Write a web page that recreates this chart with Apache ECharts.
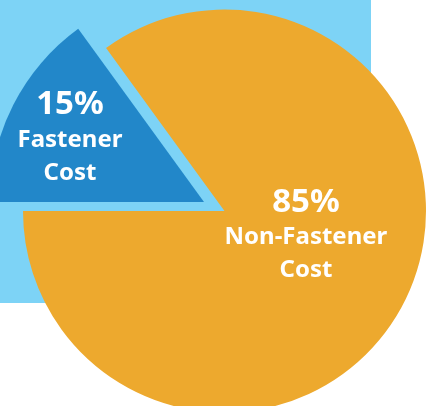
<!DOCTYPE html>
<html>
<head>
<meta charset="utf-8">
<script src="https://cdn.jsdelivr.net/npm/echarts@6/dist/echarts.min.js"></script>
<style>
html,body{margin:0;padding:0;background:#ffffff;}
#chart{width:434px;height:406px;}
</style>
</head>
<body>
<div id="chart"></div>
<script>
var categories = ['Fastener Cost', 'Non-Fastener Cost'];
var values = [15, 85];
var labelLines = [['Fastener', 'Cost'], ['Non-Fastener', 'Cost']];
var colors = ['#2287C9', '#EDA92E'];

var chart = echarts.init(document.getElementById('chart'));

function makeData(showIdx) {
  return categories.map(function (c, i) {
    var visible = i === showIdx;
    return {
      name: c,
      value: values[i],
      itemStyle: { color: visible ? colors[i] : 'rgba(0,0,0,0)' },
      label: { show: visible }
    };
  });
}

var FONT = '"Noto Sans", sans-serif';
var labelCfg = {
  show: true,
  position: 'inside',
  color: '#ffffff',
  fontFamily: FONT,
  fontWeight: 'bold',
  formatter: function (p) {
    var i = categories.indexOf(p.name);
    return '{p|' + values[i] + '%}\n' + labelLines[i].map(function (l) { return '{n|' + l + '}'; }).join('\n');
  },
  rich: {
    p: { fontSize: 33, fontWeight: 'bold', fontFamily: FONT, color: '#fff', lineHeight: 37, align: 'center' },
    n: { fontSize: 24, fontWeight: 'bold', fontFamily: FONT, color: '#fff', lineHeight: 33, align: 'center' }
  }
};

chart.setOption({
  animation: false,
  graphic: [{
    type: 'rect', z: -10, silent: true,
    shape: { x: 0, y: 0, width: 371, height: 303 },
    style: { fill: '#7DD3F6' }
  }],
  series: [
    {
      type: 'pie', silent: true,
      center: [224.5, 211], radius: 201.5,
      startAngle: 180, clockwise: true,
      label: labelCfg, labelLine: { show: false },
      labelLayout: { dx: -11, dy: -23 },
      emphasis: { disabled: true },
      data: makeData(1)
    },
    {
      type: 'pie', silent: true,
      center: [204, 202], radius: 214,
      startAngle: 180, clockwise: true,
      label: labelCfg, labelLine: { show: false },
      labelLayout: { dx: -36, dy: -14 },
      emphasis: { disabled: true },
      data: makeData(0)
    }
  ]
});
</script>
</body>
</html>
